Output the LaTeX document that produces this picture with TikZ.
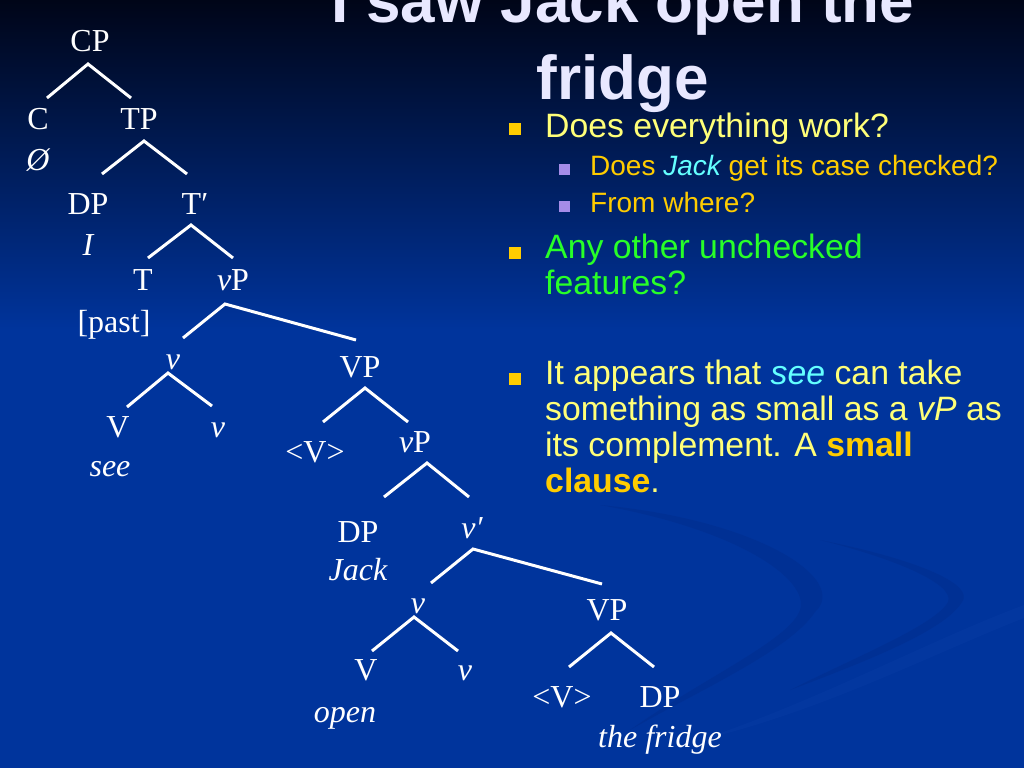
\documentclass[tikz,border=0pt]{standalone}
\usepackage{fontspec}
\setmainfont{Liberation Serif}
\setsansfont{Liberation Sans}
\definecolor{bgtop}{RGB}{0,5,24}
\definecolor{bgmid}{RGB}{4,32,104}
\definecolor{bgbot}{RGB}{0,52,156}
\definecolor{swoosh}{RGB}{0,40,130}
\definecolor{swooshlight}{RGB}{20,70,175}
\definecolor{titlecol}{RGB}{232,232,255}
\definecolor{yel}{RGB}{255,255,120}
\definecolor{gold}{RGB}{255,204,0}
\definecolor{grn}{RGB}{40,255,40}
\definecolor{cyn}{RGB}{100,255,255}
\definecolor{purp}{RGB}{165,140,232}
\tikzset{
  lab/.style={text=white, inner sep=0pt, anchor=base, font=\fontsize{32}{36}\selectfont},
  branch/.style={draw=white, line width=3pt, line join=miter},
  bulA/.style={fill=gold, minimum size=12pt, inner sep=0pt, draw=none},
  bulB/.style={fill=purp, minimum size=11pt, inner sep=0pt, draw=none},
  txtA/.style={inner sep=0pt, anchor=base west, font=\sffamily\fontsize{33.8}{36}\selectfont},
  txtB/.style={inner sep=0pt, anchor=base west, font=\sffamily\fontsize{28}{32}\selectfont, text=gold},
}
\begin{document}
\begin{tikzpicture}[x=1pt,y=-1pt]
\useasboundingbox (0,0) rectangle (1024,768);
% background
\shade[top color=bgtop, middle color=bgmid, bottom color=bgbot] (0,0) rectangle (1024,330);
\fill[bgbot] (0,329) rectangle (1024,768);
% faint swooshes
\fill[swoosh, opacity=0.3] (600,505) .. controls (760,520) and (850,580) .. (815,612)
   .. controls (790,650) and (700,690) .. (630,730)
   .. controls (700,680) and (790,640) .. (800,610)
   .. controls (810,580) and (740,530) .. (600,505) -- cycle;
\fill[swoosh, opacity=0.3] (820,540) .. controls (920,560) and (975,585) .. (962,602)
   .. controls (945,630) and (870,660) .. (790,690)
   .. controls (860,655) and (935,625) .. (948,602)
   .. controls (955,585) and (900,560) .. (820,540) -- cycle;
\fill[swooshlight, opacity=0.18] (700,740) .. controls (820,700) and (930,640) .. (1024,605)
   -- (1024,618) .. controls (930,655) and (820,712) .. (700,740) -- cycle;

% title
\node[inner sep=0pt, anchor=base, text=titlecol, font=\sffamily\bfseries\fontsize{62}{77}\selectfont] (title) at (623,23)
  {\parbox[t]{760pt}{\centering I saw Jack open the\\fridge}};

% bullets
\node[bulA] (b1) at (514.5,128.5) {};
\node[txtA, text=yel] (t1) at (545,137) {Does everything work?};
\node[bulB] (b11) at (564,169) {};
\node[txtB] (t11) at (590,175) {Does \textcolor{cyn}{\itshape Jack} get its case checked?};
\node[bulB] (b12) at (564,206) {};
\node[txtB] (t12) at (590,212) {From where?};
\node[bulA] (b2) at (514.5,252.5) {};
\node[txtA, text=grn] (t2) at (545,258) {\parbox[t]{470pt}{\raggedright Any other unchecked\\features?}};
\node[bulA] (b3) at (514.5,379) {};
\node[txtA, text=yel] (t3) at (545,384) {\parbox[t]{475pt}{\raggedright It appears that \textcolor{cyn}{\itshape see} can take\\something as small as a \textit{vP} as\\its complement. A \textcolor{gold}{\bfseries small}\\\textcolor{gold}{\bfseries clause}.}};

% tree labels
\node[lab] (CP) at (90,52) {CP};
\node[lab] (C) at (38,129) {C};
\node[lab] (Cnull) at (38,170) {\itshape Ø};
\node[lab] (TP) at (139,129) {TP};
\node[lab] (DPa) at (88,214) {DP};
\node[lab] (I) at (88,255) {\itshape I};
\node[lab] (Tbar) at (195,214) {T′};
\node[lab] (T) at (143,290) {T};
\node[lab] (past) at (114,332) {[past]};
\node[lab] (vPa) at (233,290) {\textit{v}P};
\node[lab] (va) at (173,369) {\itshape v};
\node[lab] (VPa) at (360,377) {VP};
\node[lab] (Va) at (118,437) {V};
\node[lab] (vva) at (218,437) {\itshape v};
\node[lab] (see) at (110,476) {\itshape see};
\node[lab] (Vtra) at (315,462) {<V>};
\node[lab] (vPb) at (415,452) {\textit{v}P};
\node[lab] (DPb) at (358,542) {DP};
\node[lab] (Jack) at (358,580) {\itshape Jack};
\node[lab] (vbar) at (472,538) {\itshape v′};
\node[lab] (vb) at (418,613) {\itshape v};
\node[lab] (VPb) at (607,620) {VP};
\node[lab] (Vb) at (366,680) {V};
\node[lab] (vvb) at (465,680) {\itshape v};
\node[lab] (open) at (345,722) {\itshape open};
\node[lab] (Vtrb) at (562,707) {<V>};
\node[lab] (DPc) at (660,707) {DP};
\node[lab] (fridge) at (660,747) {\itshape the fridge};

% branch points
\foreach \n/\ax/\ay/\lx/\ly/\rx/\ry in {
  CP/88/64/47/98/131/98,
  TP/144/141/102/174/187/174,
  Tbar/191/225/148/258/233/258,
  vPa/225/304/183/338/356/340,
  va/168/373/127/407/212/406,
  VPa/365/388/323/422/408/422,
  vPb/427/463/384/497/469/497,
  vbar/473/549/431/583/602/584,
  vb/414/617/372/651/458/651,
  VPb/611/633/569/667/654/667}{
  \coordinate (\n-a) at (\ax,\ay);
  \coordinate (\n-l) at (\lx,\ly);
  \coordinate (\n-r) at (\rx,\ry);
}
\foreach \n in {CP,TP,Tbar,vPa,va,VPa,vPb,vbar,vb,VPb}{
  \draw[branch] (\n-l) -- (\n-a) -- (\n-r);
}
\end{tikzpicture}
\end{document}
